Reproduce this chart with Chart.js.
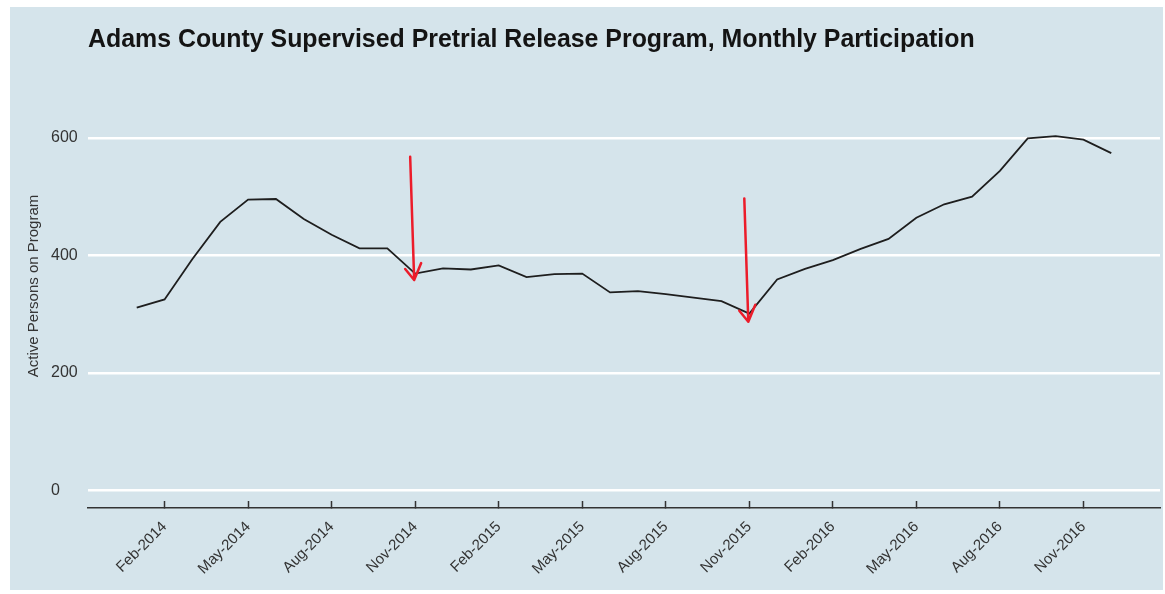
<!DOCTYPE html>
<html>
<head>
<meta charset="utf-8">
<script src="https://cdn.jsdelivr.net/npm/chart.js@4.4.1/dist/chart.umd.min.js"></script>
<style>
  html, body { margin: 0; padding: 0; background: #fff; }
  #wrap { position: relative; width: 1165px; height: 594px; }
  #title {
    position: absolute; left: 88px; top: 24px; margin: 0;
    font: bold 24.9px "Liberation Sans", Arial, sans-serif; line-height: 28px;
    color: #141414; white-space: nowrap;
  }
  #ytitle {
    position: absolute; left: 33px; top: 286px; width: 300px; margin-left: -150px; margin-top: -9px;
    text-align: center; transform: rotate(-90deg);
    font: 15px "Liberation Sans", Arial, sans-serif; line-height: 18px; color: #333;
  }
</style>
</head>
<body>
<div id="wrap">
  <canvas id="chart" width="1165" height="594"></canvas>
  <div id="title">Adams County Supervised Pretrial Release Program, Monthly Participation</div>
  <div id="ytitle">Active Persons on Program</div>
</div>
<script>
const months = [
  "Jan-2014", "Feb-2014", "Mar-2014", "Apr-2014", "May-2014", "Jun-2014",
  "Jul-2014", "Aug-2014", "Sep-2014", "Oct-2014", "Nov-2014", "Dec-2014",
  "Jan-2015", "Feb-2015", "Mar-2015", "Apr-2015", "May-2015", "Jun-2015",
  "Jul-2015", "Aug-2015", "Sep-2015", "Oct-2015", "Nov-2015", "Dec-2015",
  "Jan-2016", "Feb-2016", "Mar-2016", "Apr-2016", "May-2016", "Jun-2016",
  "Jul-2016", "Aug-2016", "Sep-2016", "Oct-2016", "Nov-2016", "Dec-2016"
];
const persons = [
  311, 325, 394, 457, 495, 496, 462, 435, 412, 412, 369, 378,
  376, 383, 363, 368, 369, 337, 339, 334, 328, 322, 301, 359,
  377, 392, 411, 428, 464, 487, 500, 544, 599, 603, 597, 574
];
// every third month gets a label
const xTickLabels = [
  "Feb-2014", "May-2014", "Aug-2014", "Nov-2014", "Feb-2015", "May-2015",
  "Aug-2015", "Nov-2015", "Feb-2016", "May-2016", "Aug-2016", "Nov-2016"
];
const yTicks = [0, 200, 400, 600];

// hand-drawn red arrows on the original
const arrowMonths = ["Nov-2014", "Nov-2015"];
const arrowTops = [568, 497];
const arrowTips = [358, 287];

Chart.defaults.font.family = '"Liberation Sans", Arial, sans-serif';

const panelBg = {
  id: "panelBg",
  beforeDraw(c) {
    const ctx = c.ctx;
    ctx.save();
    ctx.fillStyle = "#d5e4eb";
    ctx.fillRect(10, 7, c.width - 12, c.height - 11);
    ctx.restore();
  }
};

const redArrows = {
  id: "redArrows",
  afterDatasetsDraw(c) {
    const { ctx, scales: { x, y } } = c;
    ctx.save();
    ctx.strokeStyle = "#ec1c2a";
    ctx.lineWidth = 2.5;
    ctx.lineCap = "round";
    ctx.lineJoin = "round";
    arrowMonths.forEach((m, i) => {
      const px = x.getPixelForValue(months.indexOf(m));
      const top = y.getPixelForValue(arrowTops[i]);
      const tip = y.getPixelForValue(arrowTips[i]);
      ctx.beginPath();
      ctx.moveTo(px - 5, top);
      ctx.lineTo(px - 1, tip);
      ctx.moveTo(px - 10, tip - 11);
      ctx.lineTo(px - 1, tip);
      ctx.lineTo(px + 6, tip - 17);
      ctx.stroke();
    });
    ctx.restore();
  }
};

const ctx = document.getElementById("chart").getContext("2d");
const chart = new Chart(ctx, {
  type: "line",
  data: {
    datasets: [{
      data: persons.map((v, i) => ({ x: i, y: v })),
      borderColor: "#1e1e1e",
      borderWidth: 1.8,
      pointRadius: 0,
      tension: 0
    }]
  },
  options: {
    responsive: false,
    animation: false,
    layout: { padding: { left: 51, right: 5, top: 118.5, bottom: 4 } },
    plugins: { legend: { display: false }, tooltip: { enabled: false } },
    scales: {
      x: {
        type: "linear",
        min: -1.75,
        max: 36.75,
        afterBuildTicks: s => { s.ticks = xTickLabels.map(l => ({ value: months.indexOf(l) })); },
        afterFit: s => { s.height = 82; },
        ticks: {
          autoSkip: false,
          minRotation: 45,
          maxRotation: 45,
          padding: 17,
          color: "#333",
          font: { size: 15 },
          callback: v => months[v]
        },
        grid: { drawOnChartArea: false, tickLength: -7, tickWidth: 1.5, tickColor: "#333" },
        border: { color: "#333", width: 1.5 }
      },
      y: {
        min: -30,
        max: 633,
        afterBuildTicks: s => { s.ticks = yTicks.map(v => ({ value: v })); },
        afterFit: s => { s.width = 37; },
        ticks: { crossAlign: "far", padding: 9, color: "#333", font: { size: 16 } },
        grid: { color: "#ffffff", lineWidth: 2.5, drawTicks: false },
        border: { display: false }
      }
    }
  },
  plugins: [panelBg, redArrows]
});
</script>
</body>
</html>
